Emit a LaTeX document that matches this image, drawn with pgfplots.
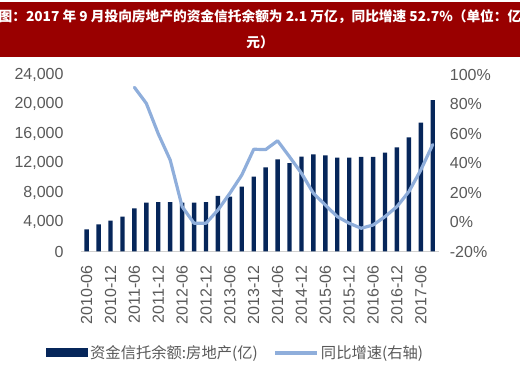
\documentclass[border=0pt]{standalone}
\usepackage{pgfplots}
\pgfplotsset{compat=1.18}
\usepackage{fontspec}
\setmainfont{Liberation Sans}
\newfontfamily\cjk{Noto Sans CJK SC}
\definecolor{navy}{HTML}{06265A}
\definecolor{lblue}{HTML}{8FAEDB}
\definecolor{dred}{HTML}{990000}
\definecolor{tgray}{HTML}{595959}
\definecolor{agray}{HTML}{D0D0D0}
\begin{document}
\begin{tikzpicture}[x=1pt,y=1pt]
\path[use as bounding box] (0,0) rectangle (520,375);
\fill[dred] (0,318) rectangle (520,373);
\node[text=white,font=\fontsize{13.7}{16}\selectfont\cjk\bfseries] at (260,358) {图：2017 年 9 月投向房地产的资金信托余额为 2.1 万亿，同比增速 52.7\%（单位：亿};
\node[text=white,font=\fontsize{13.7}{16}\selectfont\cjk\bfseries] at (260,333) {元）};
\begin{axis}[
  at={(80.7pt,123.5pt)}, anchor=south west,
  scale only axis, width=358pt, height=176.5pt,
  xmin=-0.5, xmax=29.5, ymin=0, ymax=24000,
  axis y line*=left, axis x line*=bottom,
  y axis line style={draw=none},
  x axis line style={draw=agray, line width=0.8pt},
  ytick={0,4000,...,24000},
  ytick style={draw=none},
  xtick={0,2,...,28},
  xticklabels={2010-06,2010-12,2011-06,2011-12,2012-06,2012-12,2013-06,2013-12,2014-06,2014-12,2015-06,2015-12,2016-06,2016-12,2017-06},
  xtick style={draw=none},
  extra x ticks={-0.5,1.5,...,29.5},
  extra x tick labels={},
  extra x tick style={tick align=outside, major tick length=4pt, tick style={draw=agray, line width=0.8pt}},
  /pgf/number format/assume math mode=true,
  /pgf/number format/1000 sep={,},
  scaled y ticks=false,
  ticklabel style={font=\fontsize{16}{19}\selectfont, text=tgray},
  yticklabel style={anchor=east, inner sep=0pt},
  yticklabel shift=17pt,
  xticklabel style={rotate=90, anchor=east, inner sep=0pt},
  xticklabel shift=14pt,
  legend style={at={(-0.097,-0.575)}, anchor=west, draw=none, fill=none,
    legend columns=2, font=\fontsize{15.3}{18}\selectfont\cjk, text=tgray,
    inner xsep=0pt, /tikz/every even column/.append style={column sep=14pt}},
  legend cell align=left,
]
\addplot[ybar, bar width=4.4pt, fill=navy, draw=none,
  legend image code/.code={\fill[navy] (0pt,-4.5pt) rectangle (42pt,4.5pt);}]
  coordinates {
(0,3020) (1,3700) (2,4190) (3,4730) (4,5870) (5,6640) (6,6730) (7,6730)
(8,6640) (9,6640) (10,6730) (11,7550) (12,7450) (13,8810) (14,10170)
(15,11430) (16,12540) (17,12000) (18,12890) (19,13220) (20,13080)
(21,12760) (22,12760) (23,12850) (24,12850) (25,13440) (26,14170)
(27,15530) (28,17520) (29,20600)
};
\addlegendentry{资金信托余额:房地产(亿)}
\addlegendimage{legend image code/.code={\draw[lblue, line width=3.2pt] (0pt,0pt) -- (42pt,0pt);}}
\addlegendentry{同比增速(右轴)}
\end{axis}
\begin{axis}[
  at={(80.7pt,123.5pt)}, anchor=south west,
  scale only axis, width=358pt, height=176.5pt,
  xmin=-0.5, xmax=29.5, ymin=-20, ymax=100,
  axis y line*=right, axis x line=none,
  y axis line style={draw=none},
  ytick={-20,0,...,100},
  ytick style={draw=none},
  /pgf/number format/assume math mode=true,
  yticklabel={\pgfmathprintnumber{\tick}\%},
  ticklabel style={font=\fontsize{16}{19}\selectfont, text=tgray},
  yticklabel style={anchor=west, inner sep=0pt},
  yticklabel shift=11pt,
]
\addplot[lblue, line width=3.2pt, line join=round, line cap=round] coordinates {
(4,91.6) (5,80.7) (6,60) (7,42.2) (8,10.5) (9,-0.8) (10,-0.8) (11,8.2)
(12,19.6) (13,32) (14,49.5) (15,49.3) (16,55.3) (17,44.4) (18,33.2)
(19,19.6) (20,11.6) (21,3.7) (22,-0.8) (23,-4.2) (24,-2) (25,3.7)
(26,10.5) (27,20.7) (28,35.4) (29,52.7)
};
\end{axis}
\end{tikzpicture}
\end{document}
